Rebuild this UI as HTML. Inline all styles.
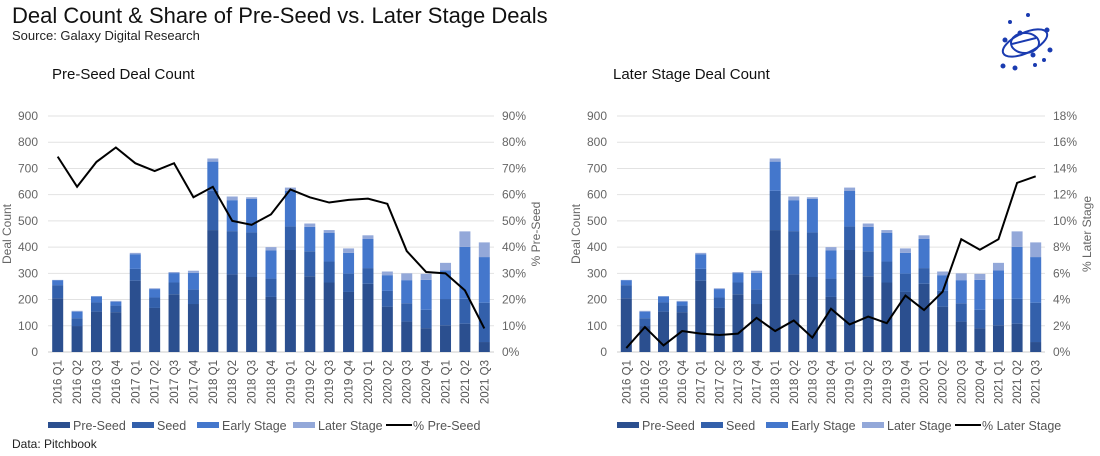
<!DOCTYPE html>
<html><head><meta charset="utf-8"><style>
body{margin:0;background:#fff;font-family:"Liberation Sans",sans-serif;}
svg text{font-family:"Liberation Sans",sans-serif;}
</style></head><body>
<svg id="c" width="1100" height="451" xmlns="http://www.w3.org/2000/svg">
<text x="12" y="23" font-size="22" fill="#111">Deal Count &amp; Share of Pre-Seed vs. Later Stage Deals</text>
<text x="12" y="40" font-size="13" fill="#222">Source: Galaxy Digital Research</text>
<text x="52" y="79" font-size="15" fill="#111">Pre-Seed Deal Count</text>
<text x="613" y="79" font-size="15" fill="#111">Later Stage Deal Count</text>
<text x="12" y="448" font-size="12" fill="#222">Data: Pitchbook</text>
<g fill="#1a3bb0" stroke="#1a3bb0">
<ellipse cx="1025" cy="43" rx="24" ry="10" fill="none" stroke-width="2" transform="rotate(-25 1025 43)"/>
<ellipse cx="1025" cy="43" rx="14" ry="10" fill="none" stroke-width="2"/>
<line x1="1012" y1="44" x2="1036" y2="38" stroke-width="2"/>
<circle cx="1005" cy="40" r="2"/><circle cx="1047" cy="30" r="2"/><circle cx="1010" cy="22" r="1.5"/><circle cx="1028" cy="15" r="1.5"/><circle cx="1044" cy="60" r="1.5"/><circle cx="1003" cy="66" r="2"/><circle cx="1015" cy="68" r="2"/><circle cx="1050" cy="50" r="2"/><circle cx="1035" cy="65" r="1.5"/><circle cx="1020" cy="33" r="2"/><circle cx="1033" cy="55" r="2"/>
</g>
</svg>
<script>
const categories=["2016 Q1","2016 Q2","2016 Q3","2016 Q4","2017 Q1","2017 Q2","2017 Q3","2017 Q4","2018 Q1","2018 Q2","2018 Q3","2018 Q4","2019 Q1","2019 Q2","2019 Q3","2019 Q4","2020 Q1","2020 Q2","2020 Q3","2020 Q4","2021 Q1","2021 Q2","2021 Q3"];
const preSeed=[205,99,154,152,272,168,220,183,465,296,286,210,389,289,265,229,260,173,116,91,102,108,38];
const seed=[50,30,35,25,45,40,45,55,150,165,170,70,90,95,80,70,60,60,70,70,100,95,150];
const early=[19,25,23,15,56,32,36,64,111,118,128,107,135,93,110,79,111,60,88,114,109,198,174];
const later=[1,3,1,3,5,3,4,8,12,14,6,13,13,13,10,17,14,14,26,23,29,59,56];
const pctPreSeed=[74.5,63,72.5,78,72,69,72,59,63,50,48.5,52.5,62,59,57,58,58.5,56.5,38.5,30.5,30,23.5,9];
const pctLater=[0.3,1.9,0.5,1.6,1.4,1.3,1.4,2.6,1.6,2.4,1.1,3.3,2.1,2.7,2.2,4.3,3.2,4.6,8.6,7.8,8.6,12.9,13.4];
const leftTicks=[0,100,200,300,400,500,600,700,800,900];
const rightTicksA=["0%","10%","20%","30%","40%","50%","60%","70%","80%","90%"];
const rightTicksB=["0%","2%","4%","6%","8%","10%","12%","14%","16%","18%"];
const colors=["#2b4f8f","#3360ab","#4477cc","#93a8d9"];
const svg=document.getElementById('c');const NS="http://www.w3.org/2000/svg";
function mk(t,a,p){const e=document.createElementNS(NS,t);for(const k in a)e.setAttribute(k,a[k]);(p||svg).appendChild(e);return e;}
function panel(x0,x1,pct,pmax,rticks,lineName,rlabel,tag){
  const y0=352,y1=116;const y=v=>y0-(v/900)*(y0-y1);const yp=v=>y0-(v/pmax)*(y0-y1);
  const bw=(x1-x0)/categories.length;const xc=i=>x0+bw*(i+0.5);
  const g=mk('g',{});
  leftTicks.forEach((t,i)=>{const yy=y(t);
    if(i>0){const l=mk('line',{x1:x0,x2:x1,y1:yy,y2:yy,stroke:'#e2e2e2','stroke-width':1},g);}
    const a=mk('text',{x:x0-10,y:yy+4,'text-anchor':'end','font-size':12,fill:'#666'},g);a.textContent=t;
    const b=mk('text',{x:x1+8,y:yy+4,'font-size':12,fill:'#666'},g);b.textContent=rticks[i];});
  const ax=mk('line',{x1:x0,x2:x1,y1:y0,y2:y0,stroke:'#ccc'},g);
  const yt=mk('text',{transform:`translate(${x0-37},${(y0+y1)/2}) rotate(-90)`,'text-anchor':'middle','font-size':12,fill:'#666'},g);yt.textContent='Deal Count';
  const y2=mk('text',{transform:`translate(${x1+46},${(y0+y1)/2}) rotate(-90)`,'text-anchor':'middle','font-size':12,fill:'#666'},g);y2.textContent=rlabel;
  const series=[preSeed,seed,early,later];const names=['pre-seed','seed','early-stage','later-stage'];
  categories.forEach((c,i)=>{let acc=0;
    series.forEach((s,k)=>{const r=mk('rect',{x:xc(i)-5.5,width:11,y:y(acc+s[i]),height:y(acc)-y(acc+s[i]),fill:colors[k]},g);acc+=s[i];});
    const t=mk('text',{transform:`translate(${xc(i)+4},${y0+8}) rotate(-90)`,'text-anchor':'end','font-size':11.5,fill:'#555'},g);t.textContent=c;});
  const pl=mk('polyline',{points:pct.map((v,i)=>xc(i)+','+yp(v)).join(' '),fill:'none',stroke:'#000','stroke-width':2},g);
  const leg=[['Pre-Seed',colors[0]],['Seed',colors[1]],['Early Stage',colors[2]],['Later Stage',colors[3]],[lineName,null]];
  const lx=[x0+0,x0+84,x0+149,x0+245,x0+338];
  leg.forEach((L,k)=>{const lg=mk('g',{},g);
    if(L[1])mk('rect',{x:lx[k],y:422,width:22,height:6,fill:L[1]},lg);else mk('line',{x1:lx[k],x2:lx[k]+26,y1:425,y2:425,stroke:'#000','stroke-width':2},lg);
    const t=mk('text',{x:lx[k]+(L[1]?25:27),y:430,'font-size':12.5,fill:'#555'},lg);t.textContent=L[0];});
}
panel(48,494,pctPreSeed,90,rightTicksA,'% Pre-Seed','% Pre-Seed','left');
panel(617,1045,pctLater,18,rightTicksB,'% Later Stage','% Later Stage','right');
</script>
</body></html>
